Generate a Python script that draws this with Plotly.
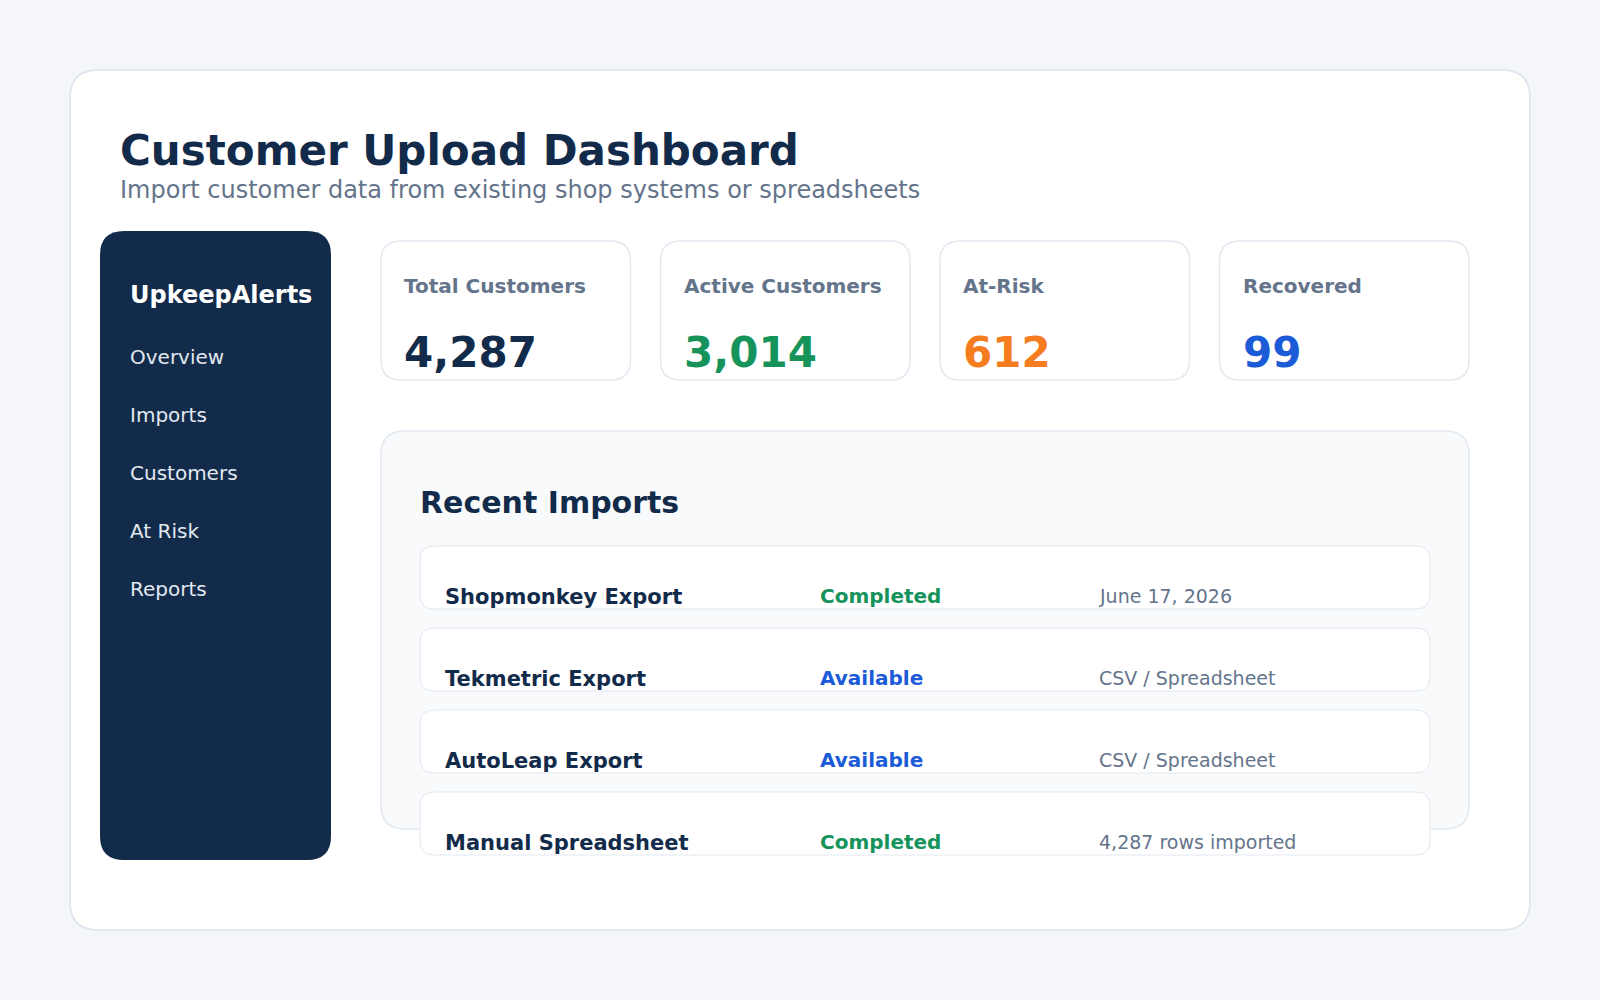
import plotly.graph_objects as go

# dashboard content
title = "Customer Upload Dashboard"
subtitle = "Import customer data from existing shop systems or spreadsheets"
brand = "UpkeepAlerts"
nav_items = ["Overview", "Imports", "Customers", "At Risk", "Reports"]

kpi_labels = ["Total Customers", "Active Customers", "At-Risk", "Recovered"]
kpi_values = [4287, 3014, 612, 99]

panel_title = "Recent Imports"
import_sources = ["Shopmonkey Export", "Tekmetric Export", "AutoLeap Export", "Manual Spreadsheet"]
import_statuses = ["Completed", "Available", "Available", "Completed"]
import_details = ["June 17, 2026", "CSV / Spreadsheet", "CSV / Spreadsheet", "4,287 rows imported"]

# colours
PAGE_BG = "#f4f6fa"
BORDER = "#e2e8f0"
NAVY = "#132b4a"
SLATE = "#64748b"
GREEN = "#16935b"
ORANGE = "#f57c1f"
BLUE = "#1b5bd7"
kpi_colors = [NAVY, GREEN, ORANGE, BLUE]
status_colors = {"Completed": GREEN, "Available": BLUE}

FONT = "DejaVu Sans"


def rrect(x0, y0, x1, y1, r):
    return (
        f"M {x0 + r},{y0} L {x1 - r},{y0} Q {x1},{y0} {x1},{y0 + r} "
        f"L {x1},{y1 - r} Q {x1},{y1} {x1 - r},{y1} "
        f"L {x0 + r},{y1} Q {x0},{y1} {x0},{y1 - r} "
        f"L {x0},{y0 + r} Q {x0},{y0} {x0 + r},{y0} Z"
    )


shapes = []
annotations = []


def box(x0, y0, x1, y1, r, fill, line=None, width=0):
    shapes.append(
        dict(
            type="path",
            path=rrect(x0, y0, x1, y1, r),
            xref="x",
            yref="y",
            fillcolor=fill,
            line=dict(color=line or fill, width=width),
            layer="below",
        )
    )


def text(x, baseline, s, size, color, bold=False):
    # place text so that its baseline sits roughly at `baseline`
    annotations.append(
        dict(
            x=x,
            y=baseline - 0.34 * size,
            xref="x",
            yref="y",
            text=f"<b>{s}</b>" if bold else s,
            showarrow=False,
            xanchor="left",
            yanchor="middle",
            borderpad=0,
            font=dict(family=FONT, size=size, color=color),
        )
    )


# outer card
box(70, 70, 1530, 930, 28, "#ffffff", BORDER, 2)

# header
text(119, 165, title, 42, NAVY, bold=True)
text(119, 198, subtitle, 24, SLATE)

# sidebar
box(100, 231, 331, 860, 24, NAVY)
text(129, 303, brand, 24, "#ffffff", bold=True)
for i, item in enumerate(nav_items):
    text(129, 364 + 58 * i, item, 20, "#e2e8f0")

# KPI cards
card_w, card_gap = 249.5, 30
for i, (lab, val) in enumerate(zip(kpi_labels, kpi_values)):
    x0 = 381 + i * (card_w + card_gap)
    box(x0, 241, x0 + card_w, 380, 20, "#ffffff", BORDER, 1.5)
    text(x0 + 22, 293, lab, 20, SLATE, bold=True)
    text(x0 + 22, 367, f"{val:,}", 42, kpi_colors[i], bold=True)

# recent imports panel
box(381, 431, 1469, 829, 24, "#f8fafc", BORDER, 1.5)
text(419, 513, panel_title, 30, NAVY, bold=True)

for i, (src, st, det) in enumerate(zip(import_sources, import_statuses, import_details)):
    y0 = 546 + 82 * i
    box(420, y0, 1430, y0 + 63, 14, "#ffffff", BORDER, 1)
    base = y0 + 58
    text(444, base, src, 21, NAVY, bold=True)
    text(819, base - 1.5, st, 20, status_colors[st], bold=True)
    text(1098, base - 1.5, det, 19, SLATE)

fig = go.Figure()
fig.add_trace(go.Scatter(x=[0, 1600], y=[0, 1000], mode="markers",
                         marker=dict(opacity=0), hoverinfo="skip", showlegend=False))
fig.update_layout(
    width=1600,
    height=1000,
    margin=dict(l=0, r=0, t=0, b=0),
    paper_bgcolor=PAGE_BG,
    plot_bgcolor=PAGE_BG,
    xaxis=dict(range=[0, 1600], visible=False, fixedrange=True),
    yaxis=dict(range=[1000, 0], visible=False, fixedrange=True),
    shapes=shapes,
    annotations=annotations,
    showlegend=False,
)

fig.write_html(
    "out.html",
    config={"displayModeBar": False},
    post_script="document.body.style.margin='0';document.body.style.background='%s';" % PAGE_BG,
)
